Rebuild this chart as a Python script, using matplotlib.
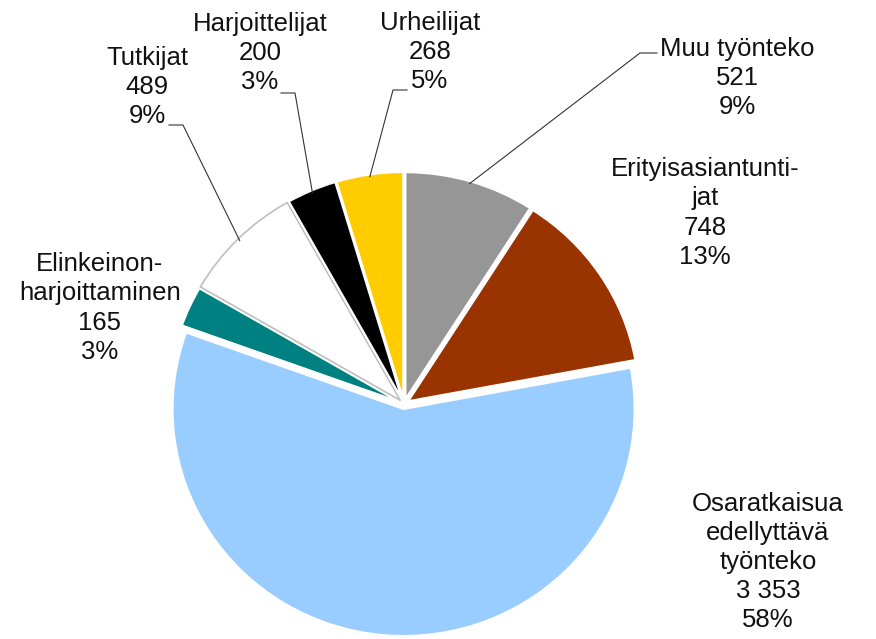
import numpy as np
import matplotlib.pyplot as plt

plt.rcParams['font.family'] = ['Liberation Sans', 'DejaVu Sans']

# Aineisto
nimet = ['Muu työnteko', 'Erityisasiantunti-\njat', 'Osaratkaisua\nedellyttävä\ntyönteko',
         'Elinkeinon-\nharjoittaminen', 'Tutkijat', 'Harjoittelijat', 'Urheilijat']
arvot = [521, 748, 3353, 165, 489, 200, 268]
arvo_tekstit = ['521', '748', '3 353', '165', '489', '200', '268']
osuudet = ['9%', '13%', '58%', '3%', '9%', '3%', '5%']
varit = ['#969696', '#993300', '#99ccff', '#008080', '#ffffff', '#000000', '#ffcc00']

# Kuvan asettelu pikseleinä (keskipiste ja säteet)
cx, cy, rx, ry = 404, 404, 231, 227
W, H = 876, 639


def px(x, y):
    return (x - cx) / rx, (cy - y) / ry


# Tekstien paikat (pikseleinä) ja viivojen kulmapisteet
tekstipaikat = [(737, 78), (705, 213), (768, 562), (100, 308), (147, 87), (260, 53), (430, 52)]
viivat = [[(640, 53), (657, 53)], None, None, None,
          [(183, 125), (169, 125)], [(295, 93), (281, 93)], [(393, 90), (407, 90)]]

fig = plt.figure(figsize=(W / 100, H / 100), dpi=100)
ax = fig.add_axes([0, 0, 1, 1])

wedges, _ = ax.pie(arvot, colors=varit, startangle=90, counterclock=False,
                   explode=[0.022] * len(arvot),
                   wedgeprops=dict(edgecolor='white', linewidth=1.5))
wedges[4].set_edgecolor('#bfbfbf')
wedges[4].set_linewidth(1.2)

ax.set_aspect('auto')
ax.set_xlim(px(0, 0)[0], px(W, 0)[0])
ax.set_ylim(px(0, H)[1], px(0, 0)[1])
ax.axis('off')

for i, w in enumerate(wedges):
    tx, ty = px(*tekstipaikat[i])
    ax.text(tx, ty, nimet[i] + '\n' + arvo_tekstit[i] + '\n' + osuudet[i],
            ha='center', va='center', fontsize=18.5, linespacing=1.27, color='#111111')
    if viivat[i] is not None:
        kulma = np.deg2rad((w.theta1 + w.theta2) / 2)
        kx = w.center[0] + 0.99 * np.cos(kulma)
        ky = w.center[1] + 0.99 * np.sin(kulma)
        pts = [(kx, ky)] + [px(*p) for p in viivat[i]]
        ax.plot([p[0] for p in pts], [p[1] for p in pts], color='#333333', lw=0.8)

fig.savefig('out.png', dpi=100)
